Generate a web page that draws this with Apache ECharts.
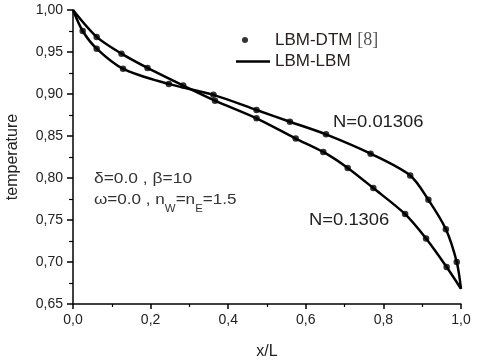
<!DOCTYPE html>
<html>
<head>
<meta charset="utf-8">
<script src="https://cdn.jsdelivr.net/npm/echarts@6/dist/echarts.min.js"></script>
<style>
  html, body { margin: 0; padding: 0; background: #fff; }
  #chart { width: 480px; height: 362px; }
</style>
</head>
<body>
<div id="chart"></div>
<script>
// tick labels
const xTicks = [0, 0.2, 0.4, 0.6, 0.8, 1.0];
const yTicks = [0.65, 0.70, 0.75, 0.80, 0.85, 0.90, 0.95, 1.00];

// LBM-DTM [8] points, N=0.01306
const dtmX1 = [0.025, 0.061, 0.129, 0.247, 0.362, 0.473, 0.559, 0.652, 0.767, 0.869, 0.916, 0.961, 0.989];
const dtmY1 = [0.975, 0.954, 0.930, 0.912, 0.899, 0.881, 0.867, 0.852, 0.829, 0.803, 0.774, 0.739, 0.700];
// LBM-DTM [8] points, N=0.1306
const dtmX2 = [0.061, 0.125, 0.192, 0.284, 0.366, 0.473, 0.574, 0.645, 0.708, 0.774, 0.856, 0.910, 0.963];
const dtmY2 = [0.968, 0.948, 0.931, 0.910, 0.892, 0.871, 0.847, 0.831, 0.812, 0.788, 0.757, 0.728, 0.694];

// LBM-LBM curves
const lbmX1 = [0, 0.025, 0.061, 0.129, 0.247, 0.362, 0.473, 0.559, 0.652, 0.767, 0.869, 0.916, 0.961, 0.989, 1.0];
const lbmY1 = [1.0, 0.975, 0.954, 0.930, 0.912, 0.899, 0.881, 0.867, 0.852, 0.829, 0.803, 0.774, 0.739, 0.700, 0.668];
const lbmX2 = [0, 0.061, 0.125, 0.192, 0.284, 0.366, 0.473, 0.574, 0.645, 0.708, 0.774, 0.856, 0.910, 0.963, 1.0];
const lbmY2 = [1.0, 0.968, 0.948, 0.931, 0.910, 0.892, 0.871, 0.847, 0.831, 0.812, 0.788, 0.757, 0.728, 0.694, 0.668];

const zip = (xs, ys) => xs.map((x, i) => [x, ys[i]]);
const FONT = '"Liberation Sans", Arial, sans-serif';
const comma = (v, d) => v.toFixed(d).replace('.', ',');

const chart = echarts.init(document.getElementById('chart'));

const lineSeries = (data) => ({
  name: 'LBM-LBM',
  type: 'line',
  data: data,
  symbol: 'none',
  smooth: 0.3,
  color: '#000',
  lineStyle: { color: '#000', width: 2.5 },
  z: 2
});
const dotSeries = (data) => ({
  name: 'LBM-DTM [8]',
  type: 'scatter',
  data: data,
  symbol: 'circle',
  symbolSize: 6.5,
  itemStyle: { color: '#000' },
  z: 3
});

chart.setOption({
  animation: false,
  backgroundColor: '#fff',
  grid: { left: 73, right: 19, top: 10, bottom: 58, outerBoundsMode: 'none' },
  xAxis: {
    type: 'value',
    min: 0, max: 1, interval: 0.2,
    name: 'x/L',
    nameLocation: 'middle',
    nameGap: 40,
    nameTextStyle: { fontFamily: FONT, fontSize: 16, color: '#222' },
    axisLine: { lineStyle: { color: '#000', width: 1.5 } },
    axisTick: { inside: false, length: 5, lineStyle: { color: '#000', width: 1.5 }, customValues: xTicks },
    minorTick: { show: true, splitNumber: 2, length: 3, lineStyle: { color: '#000', width: 1.2 } },
    axisLabel: { margin: 9, fontFamily: FONT, fontSize: 14, color: '#222', customValues: xTicks, formatter: v => comma(v, 1) },
    splitLine: { show: false }
  },
  yAxis: {
    type: 'value',
    min: 0.65, max: 1.0, interval: 0.05,
    name: 'temperature',
    nameLocation: 'middle',
    nameGap: 52,
    nameTextStyle: { fontFamily: FONT, fontSize: 16, color: '#222' },
    axisLine: { show: true, lineStyle: { color: '#000', width: 1.5 } },
    axisTick: { show: true, inside: false, length: 6, lineStyle: { color: '#000', width: 1.5 }, customValues: yTicks },
    minorTick: { show: true, splitNumber: 2, length: 4, lineStyle: { color: '#000', width: 1.2 } },
    axisLabel: { margin: 10, fontFamily: FONT, fontSize: 14, color: '#222', customValues: yTicks, formatter: v => comma(v, 2) },
    splitLine: { show: false }
  },
  legend: [
    {
      data: [{ name: 'LBM-DTM [8]', icon: 'circle' }],
      left: 242, top: 31, padding: 0,
      itemWidth: 44, itemHeight: 6,
      selectedMode: false,
      itemStyle: { color: '#000' },
      formatter: () => '{a|LBM-DTM }{b|[8]}',
      textStyle: {
        padding: [0, 0, 0, 3],
        rich: {
          a: { fontFamily: FONT, fontSize: 17, color: '#2a2222' },
          b: { fontFamily: '"Liberation Serif", serif', fontSize: 18, color: '#555' }
        }
      }
    },
    {
      data: [{ name: 'LBM-LBM', icon: 'rect' }],
      left: 236, top: 53, padding: 0,
      itemWidth: 34, itemHeight: 2.5,
      selectedMode: false,
      itemStyle: { color: '#000' },
      textStyle: { fontFamily: FONT, fontSize: 17, color: '#2a2222' }
    }
  ],
  graphic: [
    {
      type: 'text', x: 94, y: 179, scaleX: 1.16,
      style: { text: 'δ=0.0 , β=10', font: '15px ' + FONT, fill: '#333', verticalAlign: 'middle' }
    },
    {
      type: 'text', x: 94, y: 192, scaleX: 1.14,
      style: {
        text: '{a|ω=0.0 , n}{s|W}{a|=n}{s|E}{a|=1.5}',
        verticalAlign: 'top',
        rich: {
          a: { font: '15px ' + FONT, fill: '#333', lineHeight: 16, verticalAlign: 'top' },
          s: { font: '10px ' + FONT, fill: '#333', lineHeight: 10, padding: [12, 0, 0, 0], verticalAlign: 'top' }
        }
      }
    },
    {
      type: 'text', x: 333, y: 123, scaleX: 1.15,
      style: { text: 'N=0.01306', font: '16px ' + FONT, fill: '#222', verticalAlign: 'middle' }
    },
    {
      type: 'text', x: 309, y: 221, scaleX: 1.15,
      style: { text: 'N=0.1306', font: '16px ' + FONT, fill: '#222', verticalAlign: 'middle' }
    }
  ],
  series: [
    lineSeries(zip(lbmX1, lbmY1)),
    lineSeries(zip(lbmX2, lbmY2)),
    dotSeries(zip(dtmX1, dtmY1)),
    dotSeries(zip(dtmX2, dtmY2))
  ]
});
</script>
</body>
</html>
